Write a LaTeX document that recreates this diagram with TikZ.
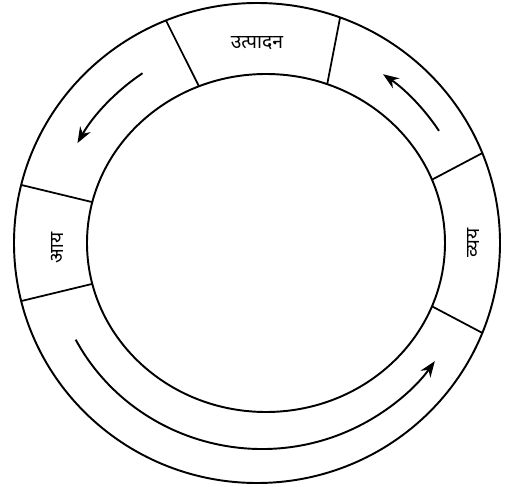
\documentclass[tikz,border=0pt]{standalone}
\usepackage{fontspec}
\newfontfamily\hindi[Script=Devanagari]{Noto Sans}
\usepackage{tikz}
\usetikzlibrary{calc,arrows.meta}

\begin{document}
\begin{tikzpicture}[x=0.2mm,y=0.2mm,
    ring/.style={line width=1.1pt},
    divider/.style={line width=1pt},
    flow/.style={line width=1.1pt,-{Stealth[length=3.2mm,width=2.4mm]}},
    label/.style={font=\hindi\fontsize{11}{13}\selectfont,inner sep=1pt}]

\useasboundingbox (-262,-244) rectangle (258,243);

\coordinate (oc) at (-5,0);   % outer circle centre
\coordinate (ic) at (4,0);    % inner circle centre
\coordinate (mc) at (0,0);    % centre of the arrows

\draw[ring] (oc) ellipse [x radius=243, y radius=240];
\draw[ring] (ic) ellipse [x radius=179, y radius=169];

% section borders
\draw[divider] ($(ic)+(112:179 and 169)$) -- ($(oc)+(112:243 and 240)$);
\draw[divider] ($(ic)+(70:179 and 169)$) -- ($(oc)+(70:243 and 240)$);
\draw[divider] ($(ic)+(166:179 and 169)$) -- ($(oc)+(166:243 and 240)$);
\draw[divider] ($(ic)+(194:179 and 169)$) -- ($(oc)+(194:243 and 240)$);
\draw[divider] ($(ic)+(22:179 and 169)$) -- ($(oc)+(22:243 and 240)$);
\draw[divider] ($(ic)+(-22:179 and 169)$) -- ($(oc)+(-22:243 and 240)$);

% labels
\node[label] (prod) at (-5,200) {उत्पादन};
\node[label,rotate=90] (inc) at (-205,-5) {आय};
\node[label,rotate=90] (exp) at (211,0) {व्यय};

% flow arrows
\draw[flow] ($(mc)+(124.5:211 and 206)$) arc [start angle=124.5, end angle=151, x radius=211, y radius=206];
\draw[flow] ($(mc)+(33:211 and 206)$) arc [start angle=33, end angle=55, x radius=211, y radius=206];
\draw[flow] ($(mc)+(208:211 and 206)$) arc [start angle=208, end angle=325, x radius=211, y radius=206];

\end{tikzpicture}
\end{document}
